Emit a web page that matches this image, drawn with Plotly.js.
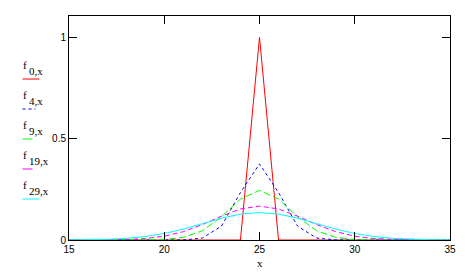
<!DOCTYPE html>
<html>
<head>
<meta charset="utf-8">
<script src="https://cdn.plot.ly/plotly-3.0.1.min.js"></script>
<style>html,body{margin:0;padding:0;background:#fff;}#chart{width:471px;height:273px;}</style>
</head>
<body>
<div id="chart"></div>
<script>
// x grid
const xValues = [15,16,17,18,19,20,21,22,23,24,25,26,27,28,29,30,31,32,33,34,35];

// series values (f_n,x)
const f0 = [0,0,0,0,0,0,0,0,0,0,1,0,0,0,0,0,0,0,0,0,0];
const f4 = [0,0,0,0,0,0,0.0005,0.0095,0.0682,0.2342,0.3754,0.2342,0.0682,0.0095,0.0005,0,0,0,0,0,0];
const f9 = [0,0,0,0.00003,0.0003,0.0025,0.0127,0.0455,0.1146,0.2019,0.2448,0.2019,0.1146,0.0455,0.0127,0.0025,0.0003,0.00003,0,0,0];
const f19 = [0,0.0001,0.0006,0.0023,0.0071,0.0187,0.0411,0.0759,0.1177,0.1531,0.1671,0.1531,0.1177,0.0759,0.0411,0.0187,0.0071,0.0023,0.0006,0.0001,0];
const f29 = [0.0004,0.0013,0.0034,0.0081,0.0171,0.0322,0.0539,0.0806,0.1075,0.1277,0.1353,0.1277,0.1075,0.0806,0.0539,0.0322,0.0171,0.0081,0.0034,0.0013,0.0004];

const seriesSubs = ["0,x","4,x","9,x","19,x","29,x"];
const seriesColors = ["#ff0000","#0000ff","#00ff00","#ff00ff","#00ffff"];
const seriesDash = ["solid","3px,3px","7px,3px","5px,3px","solid"];
const seriesData = [f0,f4,f9,f19,f29];

const xTicks = [15,20,25,30,35];
const yTicks = [0,0.5,1];
const yTickText = ["0","0.5","1"];
const xTitle = "x";

const traces = seriesData.map((ys,i)=>({
  type:"scatter", mode:"lines", x:xValues, y:ys,
  name:"f" + seriesSubs[i],
  line:{color:seriesColors[i], width:1, dash:seriesDash[i]},
  showlegend:false, hoverinfo:"skip"
}));

// legend drawn at left (text above short line sample), paper coords
const L = 69, R = 450, T = 16, B = 240;
const px = v => (v - L) / (R - L);
const py = v => (B - v) / (B - T);
const sampleLen = [17,13,10,10,17];
const sampleDash = ["solid","3px,3px","solid","solid","solid"];
const serifFont = {family:"Liberation Serif, Times New Roman, serif", size:11, color:"#000"};
const annotations = [];
const shapes = [];
seriesSubs.forEach((sub,i)=>{
  const lineY = 79 + 30*i;
  annotations.push({
    xref:"paper", yref:"paper", x:px(21), y:py(lineY-14),
    xanchor:"left", yanchor:"middle", showarrow:false,
    text:"f", font:serifFont
  });
  annotations.push({
    xref:"paper", yref:"paper", x:px(26.5), y:py(lineY-8),
    xanchor:"left", yanchor:"middle", showarrow:false,
    text:sub, font:serifFont
  });
  shapes.push({
    type:"line", xref:"paper", yref:"paper",
    x0:px(22.5), x1:px(22.5+sampleLen[i]), y0:py(lineY), y1:py(lineY),
    line:{color:seriesColors[i], width:1, dash:sampleDash[i]}
  });
});
// x axis title (placed as annotation so it sits below the margin limit)
annotations.push({
  xref:"paper", yref:"paper", x:0.5, y:py(263),
  xanchor:"center", yanchor:"middle", showarrow:false,
  text:xTitle, font:serifFont
});

const axisCommon = {
  showline:true, linecolor:"#000", linewidth:1, mirror:"ticks",
  ticks:"inside", ticklen:8, tickwidth:1, tickcolor:"#000",
  showgrid:false, zeroline:false,
  tickfont:{family:"Liberation Sans, Arial, sans-serif", size:10, color:"#000"}
};

const layout = {
  width:471, height:273,
  margin:{l:L, r:471-R, t:T, b:273-B, pad:0},
  paper_bgcolor:"#fff", plot_bgcolor:"#fff",
  xaxis:Object.assign({}, axisCommon, {
    range:[15,35], tickvals:xTicks, ticktext:xTicks.map(String)
  }),
  yaxis:Object.assign({}, axisCommon, {
    range:[0,1.105], tickvals:yTicks, ticktext:yTickText
  }),
  annotations:annotations,
  shapes:shapes,
  showlegend:false
};

Plotly.newPlot("chart", traces, layout, {staticPlot:true, displayModeBar:false});
</script>
</body>
</html>
